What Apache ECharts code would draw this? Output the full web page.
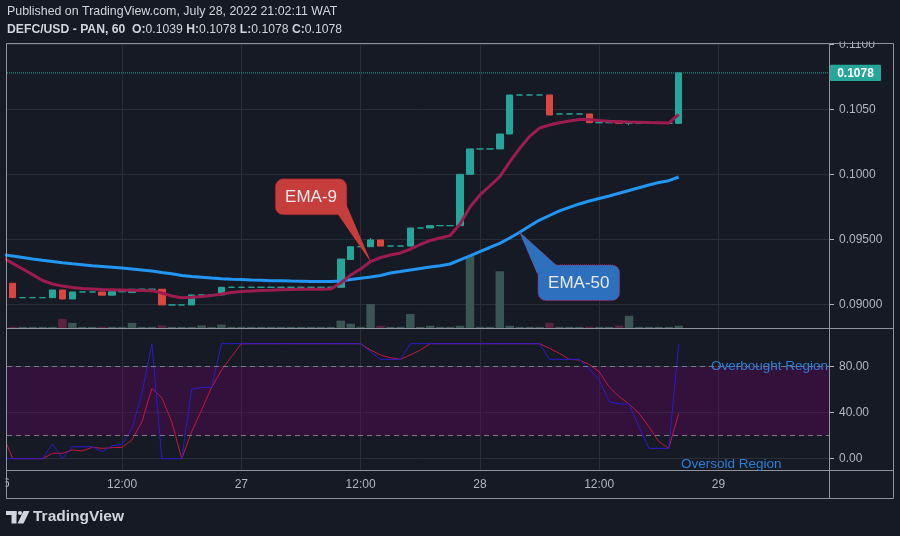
<!DOCTYPE html>
<html>
<head>
<meta charset="utf-8">
<script src="https://cdn.jsdelivr.net/npm/echarts@6/dist/echarts.min.js"></script>
<style>
html,body{margin:0;padding:0;background:#161a25;}
#c{width:900px;height:536px;}
</style>
</head>
<body>
<div id="c"></div>
<script>
// ---------- DATA (hour 0 = 26 Jul 00:00, 1h candles) ----------
const firstCandleHour = 1;          // 26 Jul 01:00
const lineStartHour = 0;            // indicator arrays start one bar earlier
const opens = [
  0.09162,0.09051,0.09051,0.09051,0.09051,0.0911,0.09041,0.09095,0.09095,0.09095,
  0.0907,0.09097,0.0909,0.09116,0.09116,0.09116,0.08995,0.08995,0.08995,0.09072,
  0.09072,0.09072,0.09131,0.09131,0.09131,0.09131,0.09131,0.09131,0.09131,0.09131,
  0.09131,0.09131,0.09131,0.09131,0.09345,0.09443,0.09443,0.09495,0.09448,0.09448,
  0.09448,0.09587,0.09587,0.09605,0.09605,0.09605,0.1,0.10195,0.10195,0.10195,
  0.1031,0.1061,0.1061,0.1061,0.1061,0.10464,0.10464,0.10464,0.10464,0.10397,
  0.10397,0.1041,0.10392,0.10392,0.10392,0.10392,0.10392,0.10392
];
const closes = [
  0.09051,0.09051,0.09051,0.09051,0.0911,0.09041,0.09095,0.09095,0.09095,0.0907,
  0.09097,0.09097,0.09116,0.09116,0.09116,0.08995,0.08995,0.08995,0.09072,0.09072,
  0.09072,0.09131,0.09131,0.09131,0.09131,0.09131,0.09131,0.09131,0.09131,0.09131,
  0.09131,0.09131,0.09131,0.09348,0.09443,0.09443,0.09495,0.09448,0.09448,0.09448,
  0.09587,0.09587,0.09605,0.09605,0.09605,0.1,0.10195,0.10195,0.10195,0.1031,
  0.1061,0.1061,0.1061,0.1061,0.10456,0.10464,0.10464,0.10464,0.10397,0.10397,
  0.10397,0.10392,0.10392,0.10392,0.10392,0.10392,0.10392,0.1078
];
const wickHighs = {36: 0.0951};
const wickLows = {62: 0.10377};
const volumes = [
  4,4,4,4,4,32,18,4,4,4,
  4,4,18,4,4,9,4,4,4,9,
  4,12,4,4,4,4,4,4,4,4,
  4,4,4,26,15,4,84,8,4,4,
  49,4,8,4,4,8,252,4,4,199,
  8,4,4,4,18,4,4,4,4,4,
  4,8,43,4,4,4,4,8
];
const ema9 = [
  0.09358,
  0.09315,0.09272,0.09228,0.09183,0.09156,0.0914,0.09129,0.09122,0.09118,0.09114,
  0.09112,0.0911,0.09108,0.09106,0.09105,0.09087,0.09064,0.09051,0.09055,0.0906,
  0.09068,0.09079,0.09091,0.09098,0.09102,0.09106,0.09108,0.09112,0.09114,0.09115,
  0.09116,0.09116,0.09118,0.09164,0.09225,0.09272,0.09329,0.0936,0.09379,0.09395,
  0.09425,0.0946,0.09491,0.0951,0.09529,0.09618,0.09748,0.09841,0.0991,0.09982,
  0.10095,0.102,0.10291,0.10356,0.10379,0.10397,0.1041,0.10422,0.10422,0.10414,
  0.10408,0.10405,0.10402,0.10401,0.10398,0.10397,0.10395,0.1046
];
const ema50 = [
  0.09381,
  0.09372,0.0936,0.09348,0.09338,0.09329,0.0932,0.09312,0.09305,0.09297,0.09291,
  0.09285,0.09279,0.09272,0.09264,0.09256,0.09245,0.09235,0.09222,0.09214,0.09208,
  0.09202,0.09197,0.09193,0.0919,0.09187,0.09185,0.09182,0.09181,0.09179,0.09178,
  0.09176,0.09175,0.09175,0.09179,0.09191,0.092,0.0921,0.09222,0.09241,0.09252,
  0.09264,0.09275,0.09287,0.09297,0.0931,0.09341,0.09372,0.09406,0.09437,0.09469,
  0.0951,0.09554,0.09602,0.09648,0.09683,0.09718,0.09745,0.09772,0.09795,0.09814,
  0.09833,0.09854,0.09875,0.09897,0.09918,0.09937,0.09951,0.09979
];
const stochK = [
  0,
  0,0,0,0,12.8,0,10.4,10.4,10.4,6,
  11.3,12.5,26.4,56.8,100,0,0,0,60.3,62,
  62,100,100,100,100,100,100,100,100,100,
  100,100,100,100,100,100,93,86.4,86.4,86.4,
  100,100,100,100,100,100,100,100,100,100,
  100,100,100,100,86.4,86.4,86.4,86.4,78,68.4,
  49.6,47.6,47.6,27.8,9,9,9,99.7
];
const stochD = [
  21,
  0,0,0,0,4.7,4.7,7.6,6.7,9.9,9,
  9.6,9.9,16.3,32.2,61.2,53,32.2,0,23.5,42.3,
  62,77,88.7,100,100,100,100,100,100,100,
  100,100,100,100,100,100,94.5,90.2,87.8,86.4,
  90.2,94.5,100,100,100,100,100,100,100,100,
  100,100,100,100,96,91.6,86.4,85.8,82,75.6,
  62.6,54,47.6,39.5,27.8,14.8,9,39.5
];
const xTickHours = [12, 24, 36, 48, 60, 72];
const xTickLabels = ['12:00', '27', '12:00', '28', '12:00', '29'];
const priceTicks = [0.09, 0.095, 0.1, 0.105, 0.11];
const stochTicks = [0, 40, 80];
const stochLevels = [20, 80];
const lastPrice = 0.1078;
const ema9CalloutHour = 37;
const ema50CalloutHour = 52;

// ---------- STYLE ----------
const BG = '#161a25', GRID = '#2a2e39', TXT = '#b2b5be', FRAME = '#8f929b';
const UP = '#26a69a', DOWN = '#d9473f';
const FONT = "'Liberation Sans', Arial, sans-serif";
const hourRange = [0.4225, 83.22];
const priceRange = [0.0881769, 0.1101];
const stochRange = [-10.7, 113.65];

const candleData = opens.map((o, i) => {
  const c = closes[i];
  const lo = wickLows[i] != null ? wickLows[i] : Math.min(o, c);
  const hi = wickHighs[i] != null ? wickHighs[i] : Math.max(o, c);
  return [firstCandleHour + i, o, c, lo, hi];
});
const volData = volumes.map((v, i) => {
  const down = closes[i] < opens[i];
  return {value: [firstCandleHour + i, v], itemStyle: {color: down ? '#5a2340' : '#3b5553'}};
});
const toLine = arr => arr.map((v, k) => [lineStartHour + k, v]);

function priceFmt(v) { return v >= 0.1 ? v.toFixed(4) : v.toFixed(5); }

function mkX(gi, showLabels) {
  return {
    gridIndex: gi, type: 'value', min: hourRange[0], max: hourRange[1],
    axisLine: {show: false},
    axisTick: {show: false, customValues: xTickHours},
    axisLabel: {
      show: showLabels, customValues: xTickHours, color: TXT, fontSize: 12, fontFamily: FONT, margin: 8,
      formatter: v => { const k = xTickHours.indexOf(Math.round(v)); return k >= 0 ? xTickLabels[k] : ''; }
    },
    splitLine: {show: true, lineStyle: {color: GRID, width: 1}}
  };
}

const chart = echarts.init(document.getElementById('c'));
chart.setOption({
  backgroundColor: BG,
  animation: false,
  textStyle: {fontFamily: FONT},
  grid: [
    {left: 7, top: 43, width: 823, height: 285},
    {left: 7, top: 328, width: 823, height: 143}
  ],
  xAxis: [mkX(0, false), mkX(1, true)],
  yAxis: [
    {
      gridIndex: 0, type: 'value', position: 'right', min: priceRange[0], max: priceRange[1],
      axisLine: {show: false},
      axisTick: {show: true, length: 4, lineStyle: {color: TXT}, customValues: priceTicks},
      axisLabel: {customValues: priceTicks, color: TXT, fontSize: 12, fontFamily: FONT, margin: 9, formatter: priceFmt},
      splitLine: {show: true, lineStyle: {color: GRID}}
    },
    {gridIndex: 0, type: 'value', min: 0, max: 1000, show: false, splitLine: {show: false}},
    {
      gridIndex: 1, type: 'value', position: 'right', min: stochRange[0], max: stochRange[1],
      axisLine: {show: false},
      axisTick: {show: true, length: 4, lineStyle: {color: TXT}, customValues: stochTicks},
      axisLabel: {customValues: stochTicks, color: TXT, fontSize: 12, fontFamily: FONT, margin: 9, formatter: v => v.toFixed(2)},
      splitLine: {show: true, lineStyle: {color: GRID}}
    }
  ],
  series: [
    {
      type: 'bar', name: 'Volume', xAxisIndex: 0, yAxisIndex: 1, data: volData,
      barWidth: 8.5, z: 1, silent: true
    },
    {
      type: 'candlestick', name: 'DEFC/USD', xAxisIndex: 0, yAxisIndex: 0,
      data: candleData, encode: {x: 0, y: [1, 2, 3, 4]}, barWidth: 7, z: 2,
      itemStyle: {color: UP, color0: DOWN, borderColor: UP, borderColor0: DOWN, borderColorDoji: UP, borderWidth: 1}
    },
    {
      type: 'line', name: 'Last price', xAxisIndex: 0, yAxisIndex: 0,
      data: [[hourRange[0], lastPrice], [hourRange[1], lastPrice]],
      showSymbol: false, z: 2, lineStyle: {color: UP, type: 'dotted', width: 1}, silent: true
    },
    {
      type: 'line', name: 'EMA-50', xAxisIndex: 0, yAxisIndex: 0, data: toLine(ema50),
      showSymbol: false, z: 3, lineStyle: {color: '#2196f3', width: 3}, silent: true
    },
    {
      type: 'line', name: 'EMA-9', xAxisIndex: 0, yAxisIndex: 0, data: toLine(ema9),
      showSymbol: false, z: 4, lineStyle: {color: '#9e1b4f', width: 3}, silent: true
    },
    {
      type: 'line', name: '%D', xAxisIndex: 1, yAxisIndex: 2, data: toLine(stochD),
      showSymbol: false, z: 3, lineStyle: {color: '#c8173f', width: 1}, silent: true,
      markArea: {
        silent: true, label: {show: false},
        itemStyle: {color: 'rgba(112, 0, 104, 0.32)'},
        data: [[{yAxis: stochLevels[0]}, {yAxis: stochLevels[1]}]]
      },
      markLine: {
        silent: true, animation: false, symbol: ['none', 'none'], label: {show: false},
        lineStyle: {color: '#787b86', type: [5, 4], width: 1},
        data: stochLevels.map(v => ({yAxis: v}))
      }
    },
    {
      type: 'line', name: '%K', xAxisIndex: 1, yAxisIndex: 2, data: toLine(stochK),
      showSymbol: false, z: 4, lineStyle: {color: '#2a1ccf', width: 1}, silent: true
    }
  ]
});

// ---------- annotations / frame ----------
const g = [];
function ln(x1, y1, x2, y2, color, w) {
  g.push({type: 'line', silent: true, z: 60, shape: {x1, y1, x2, y2}, style: {stroke: color || FRAME, lineWidth: w || 1}});
}
// cover the clipped upper half of the top price label and the left of the first date label
g.push({type: 'rect', silent: true, z: 55, shape: {x: 831, y: 30, width: 62, height: 11.5}, style: {fill: BG}});
g.push({type: 'text', silent: true, z: 54, x: 3, y: 478, style: {text: '26', fill: TXT, font: '12px ' + FONT, textAlign: 'center'}});
g.push({type: 'rect', silent: true, z: 55, shape: {x: 0, y: 473, width: 5.5, height: 22}, style: {fill: BG}});
// last price tag on the price scale
const lp = chart.convertToPixel({xAxisIndex: 0, yAxisIndex: 0}, [hourRange[1], lastPrice]);
g.push({type: 'rect', silent: true, z: 65, shape: {x: lp[0], y: lp[1] - 8.2, width: 51, height: 16.4, r: 1}, style: {fill: UP}});
g.push({type: 'text', silent: true, z: 66, x: lp[0] + 25.5, y: lp[1] + 0.5, style: {
  text: lastPrice.toFixed(4), fill: '#ffffff', font: 'bold 12px ' + FONT, textAlign: 'center', textVerticalAlign: 'middle'}});
// frame
ln(6.5, 43.5, 893.5, 43.5);
ln(6.5, 43.5, 6.5, 498.5);
ln(893.5, 43.5, 893.5, 498.5);
ln(6.5, 498.5, 893.5, 498.5);
ln(6.5, 328.5, 893.5, 328.5);
ln(6.5, 470.5, 893.5, 470.5);
ln(829.5, 43.5, 829.5, 498.5);
// header
g.push({type: 'text', silent: true, z: 60, x: 7, y: 6, style: {
  text: 'Published on TradingView.com, July 28, 2022 21:02:11 WAT', fill: '#d1d4dc', font: '12.4px ' + FONT}});
g.push({type: 'text', silent: true, z: 60, x: 7, y: 24, style: {
  text: '{b|DEFC/USD - PAN, 60}  {b|O:}0.1039 {b|H:}0.1078 {b|L:}0.1078 {b|C:}0.1078',
  fill: '#d1d4dc', font: '12.2px ' + FONT,
  rich: {b: {fontWeight: 'bold', fill: '#d1d4dc', fontSize: 12.2, fontFamily: FONT}}}});
// footer logo
const LOGO = '#d1d4dc';
g.push({type: 'rect', silent: true, z: 60, shape: {x: 6, y: 511, width: 10.5, height: 4}, style: {fill: LOGO}});
g.push({type: 'rect', silent: true, z: 60, shape: {x: 11.5, y: 511, width: 5, height: 12.5}, style: {fill: LOGO}});
g.push({type: 'circle', silent: true, z: 60, shape: {cx: 20, cy: 513, r: 2.1}, style: {fill: LOGO}});
g.push({type: 'polygon', silent: true, z: 60, shape: {points: [[23.5, 511], [29.5, 511], [23.5, 523.5], [17.5, 523.5]]}, style: {fill: LOGO}});
g.push({type: 'text', silent: true, z: 60, x: 33, y: 509, style: {text: 'TradingView', fill: LOGO, font: 'bold 15.5px ' + FONT}});
// stochastic region labels
const ob = chart.convertToPixel({xAxisIndex: 1, yAxisIndex: 2}, [hourRange[1], stochLevels[1]]);
g.push({type: 'text', silent: true, z: 60, x: ob[0] - 2, y: ob[1], style: {
  text: 'Overbought Region', fill: '#2f7fd4', font: '13.5px ' + FONT, textAlign: 'right', textVerticalAlign: 'middle'}});
g.push({type: 'text', silent: true, z: 60, x: 681, y: 464, style: {
  text: 'Oversold Region', fill: '#2f7fd4', font: '13.5px ' + FONT, textAlign: 'left', textVerticalAlign: 'middle'}});
// callouts
const t9 = chart.convertToPixel({xAxisIndex: 0, yAxisIndex: 0}, [ema9CalloutHour, ema9[ema9CalloutHour - lineStartHour]]);
const t50 = chart.convertToPixel({xAxisIndex: 0, yAxisIndex: 0}, [ema50CalloutHour, ema50[ema50CalloutHour - lineStartHour]]);
function callout(tip, rect, ptr, fill, stroke, label) {
  const pts = [[tip[0], tip[1]], [tip[0] + ptr[0][0], tip[1] + ptr[0][1]], [tip[0] + ptr[1][0], tip[1] + ptr[1][1]]];
  const r = {x: tip[0] + rect[0], y: tip[1] + rect[1], width: rect[2], height: rect[3], r: 8};
  g.push({type: 'polygon', silent: true, z: 70, shape: {points: pts}, style: {fill, stroke, lineWidth: 1, lineDash: [1, 1]}});
  g.push({type: 'rect', silent: true, z: 71, shape: r, style: {fill, stroke, lineWidth: 1, lineDash: [1, 1]}});
  g.push({type: 'polygon', silent: true, z: 72, shape: {points: pts}, style: {fill}});
  g.push({type: 'text', silent: true, z: 73, x: r.x + r.width / 2, y: r.y + r.height / 2 + 0.5, style: {
    text: label, fill: '#e8e8ea', font: '17px ' + FONT, textAlign: 'center', textVerticalAlign: 'middle'}});
}
callout(t9, [-95.3, -82.7, 71.6, 36], [[-33, -48], [-24.5, -57]], '#c63e3c', '#8c1a2e', 'EMA-9');
callout(t50, [18.3, 32.6, 81.7, 35.7], [[17.5, 41], [37, 33.5]], '#2c70be', '#c2185b', 'EMA-50');
chart.setOption({graphic: g});
</script>
</body>
</html>
